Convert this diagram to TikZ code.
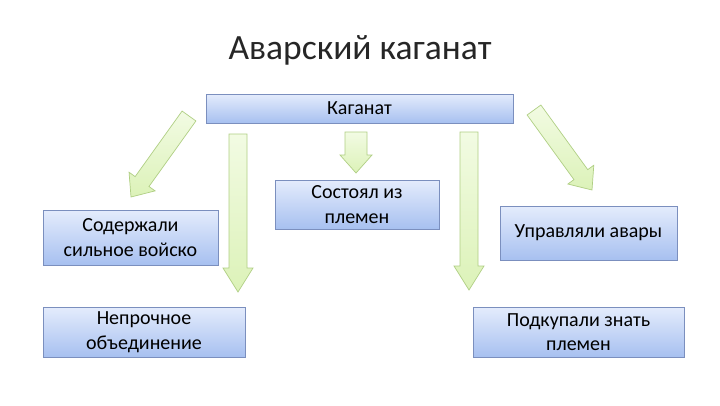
\documentclass[tikz,border=0pt]{standalone}
\usepackage{fontspec}
\setmainfont{Carlito}
\usetikzlibrary{calc}
\definecolor{boxdraw}{HTML}{7B8FBE}
\definecolor{boxtop}{HTML}{E4ECFC}
\definecolor{boxbot}{HTML}{A7C0F0}
\definecolor{arrdraw}{HTML}{B0CF84}
\definecolor{arrtop}{HTML}{F2FBE3}
\definecolor{arrbot}{HTML}{DCF2B8}
\definecolor{titlecol}{HTML}{262626}
\tikzset{
  box/.style={draw=boxdraw, line width=0.8pt, top color=boxtop, bottom color=boxbot,
    align=center, inner sep=0pt, font=\fontsize{20}{24.5}\selectfont, text=black},
  blockarrow/.style={draw=arrdraw, line width=0.7pt, top color=arrtop, bottom color=arrbot, line join=miter},
  titletext/.style={font=\fontsize{35.5}{42}\selectfont, text=titlecol}
}
% #1 start (tail centre), #2 tip, #3 shaft half width, #4 head half width, #5 head length
\newcommand\blockarr[5]{%
  \coordinate (hh) at ($(#2)!#5!(#1)$);
  \path[blockarrow] ($(#1)!#3!90:(#2)$) -- ($(hh)!#3!90:(#2)$) -- ($(hh)!#4!90:(#2)$)
    -- (#2) -- ($(hh)!#4!-90:(#2)$) -- ($(hh)!#3!-90:(#2)$) -- ($(#1)!#3!-90:(#2)$) -- cycle;
}
\begin{document}
\begin{tikzpicture}[x=1pt,y=-1pt]
\useasboundingbox[fill=white] (0,0) rectangle (720,405);
\node[titletext] (title) at (360,50) {Аварский каганат};
\node[box, minimum width=307pt, minimum height=29pt] (kag) at (359.5,108.5) {Каганат};
\node[box, minimum width=175pt, minimum height=55pt] (b1) at (130.5,237.5) {Содержали\\сильное войско};
\node[box, minimum width=202pt, minimum height=50pt] (b2) at (144,332) {Непрочное\\объединение};
\node[box, minimum width=164pt, minimum height=49pt] (b3) at (357,204.5) {Состоял из\\племен};
\node[box, minimum width=177pt, minimum height=54pt] (b4) at (588.5,233) {Управляли авары};
\node[box, minimum width=211pt, minimum height=50pt] (b5) at (578.5,332) {Подкупали знать\\племен};
% block arrows
\coordinate (a1s) at (189,116); \coordinate (a1e) at (131,197);
\coordinate (a2s) at (238,134); \coordinate (a2e) at (238,292);
\coordinate (a3s) at (356,132); \coordinate (a3e) at (356,173);
\coordinate (a4s) at (469,132); \coordinate (a4e) at (469,290);
\coordinate (a5s) at (534,110); \coordinate (a5e) at (592,190);
\blockarr{a1s}{a1e}{8.5pt}{16pt}{19pt}
\blockarr{a2s}{a2e}{9pt}{15pt}{24pt}
\blockarr{a3s}{a3e}{11pt}{16pt}{18pt}
\blockarr{a4s}{a4e}{9pt}{15pt}{24pt}
\blockarr{a5s}{a5e}{8.5pt}{16pt}{19pt}
\end{tikzpicture}
\end{document}
